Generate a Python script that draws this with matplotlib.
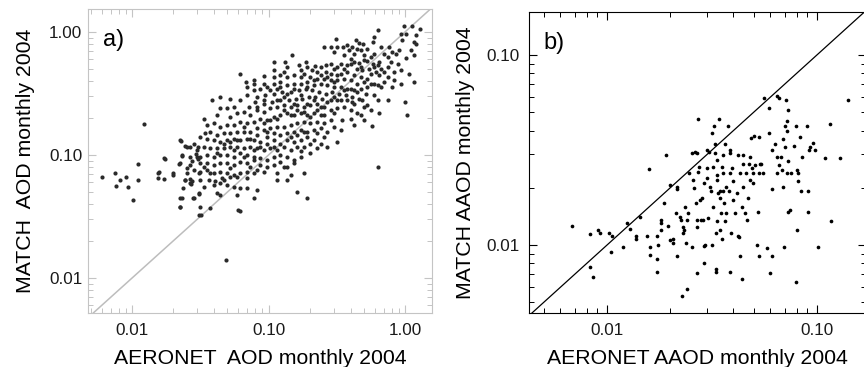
import matplotlib
matplotlib.use('Agg')  # no display
from matplotlib import pyplot as plt
from matplotlib.ticker import LogLocator, NullFormatter
import numpy as np

plt.rcParams['font.family'] = ['Liberation Sans', 'DejaVu Sans']

# a) monthly AOD 2004, (AERONET, MATCH)
aod_pairs = [
    (0.99, 1.13), (1.13, 1.13), (1.30, 1.06), (0.935, 0.969), (1.02, 0.969), (0.63, 1.03),
    (0.595, 0.911), (1.20, 0.94), (1.17, 0.83), (0.96, 0.856), (0.31, 0.88), (0.58, 0.83),
    (0.436, 0.856), (0.46, 0.81), (0.49, 0.80), (0.255, 0.756), (0.285, 0.756), (0.32, 0.756),
    (0.35, 0.756), (0.378, 0.78), (0.41, 0.76), (0.448, 0.733), (0.474, 0.71), (0.531, 0.733),
    (0.667, 0.756), (0.77, 0.756), (0.81, 0.69), (0.91, 0.71), (1.11, 0.71), (0.705, 0.667),
    (0.746, 0.627), (0.86, 0.667), (1.02, 0.61), (1.17, 0.65), (1.20, 0.80),
    (0.302, 0.69), (0.39, 0.71), (0.424, 0.667), (0.502, 0.647), (0.562, 0.627), (0.65, 0.57),
    (0.338, 0.554), (0.378, 0.537), (0.40, 0.554), (0.424, 0.57), (0.46, 0.56), (0.502, 0.589),
    (0.531, 0.58), (0.58, 0.554), (0.63, 0.537), (0.667, 0.50), (0.746, 0.52), (0.835, 0.473),
    (0.935, 0.489), (1.08, 0.459), (0.546, 0.50), (0.595, 0.52), (0.285, 0.554), (0.262, 0.537),
    (0.241, 0.52), (0.22, 0.527), (0.302, 0.50), (0.32, 0.52), (0.358, 0.50), (0.448, 0.50),
    (0.488, 0.489), (0.149, 0.647), (0.133, 0.57), (0.187, 0.57), (0.109, 0.57), (0.167, 0.537),
    (0.192, 0.52), (0.209, 0.489), (0.228, 0.473), (0.262, 0.473), (0.285, 0.459), (0.32, 0.445),
    (0.61, 0.473), (0.705, 0.473), (0.562, 0.459), (0.65, 0.445), (1.17, 0.394), (0.81, 0.358),
    (1.0, 0.27), (1.03, 0.21), (0.935, 0.381), (0.667, 0.358),
    (0.0622, 0.454), (0.068, 0.394), (0.078, 0.41), (0.0924, 0.44), (0.109, 0.489), (0.122, 0.445),
    (0.129, 0.473), (0.137, 0.432), (0.153, 0.445), (0.172, 0.432), (0.182, 0.459), (0.203, 0.432),
    (0.228, 0.419), (0.255, 0.419), (0.285, 0.406), (0.32, 0.406), (0.358, 0.419), (0.40, 0.406),
    (0.448, 0.381), (0.502, 0.394), (0.562, 0.381), (0.63, 0.37), (0.705, 0.394), (0.531, 0.358),
    (0.474, 0.347), (0.424, 0.337), (0.378, 0.347), (0.338, 0.358), (0.302, 0.358), (0.27, 0.37),
    (0.241, 0.381), (0.215, 0.37), (0.192, 0.394), (0.172, 0.381), (0.153, 0.381), (0.137, 0.37),
    (0.122, 0.394), (0.109, 0.381), (0.0977, 0.358), (0.0873, 0.347), (0.078, 0.337), (0.0697, 0.358),
    (0.0697, 0.306), (0.0825, 0.297), (0.095, 0.306), (0.109, 0.316), (0.126, 0.326), (0.145, 0.326),
    (0.167, 0.337), (0.187, 0.347), (0.209, 0.337), (0.234, 0.326), (0.262, 0.316), (0.293, 0.326),
    (0.33, 0.316), (0.368, 0.306), (0.41, 0.297), (0.46, 0.288), (0.516, 0.316), (0.595, 0.306),
    (0.41, 0.27), (0.32, 0.279), (0.285, 0.279), (0.248, 0.288), (0.22, 0.297), (0.197, 0.297),
    (0.177, 0.288), (0.158, 0.288), (0.141, 0.279), (0.122, 0.279), (0.106, 0.27), (0.0924, 0.262),
    (0.080, 0.27), (0.0443, 0.297), (0.0525, 0.288), (0.0385, 0.279), (0.0497, 0.24), (0.0556, 0.247),
    (0.0622, 0.279), (0.0717, 0.247),
    (0.0443, 0.24), (0.0419, 0.212), (0.0525, 0.205), (0.0588, 0.218), (0.0658, 0.225), (0.0737, 0.212),
    (0.0825, 0.232), (0.0924, 0.225), (0.103, 0.24), (0.116, 0.247), (0.129, 0.254), (0.145, 0.247),
    (0.162, 0.254), (0.182, 0.247), (0.203, 0.254), (0.228, 0.262), (0.255, 0.247), (0.285, 0.232),
    (0.32, 0.24), (0.358, 0.247), (0.40, 0.232), (0.448, 0.218), (0.502, 0.247), (0.562, 0.232),
    (0.424, 0.262), (0.302, 0.218), (0.241, 0.212), (0.215, 0.218), (0.192, 0.212), (0.172, 0.218),
    (0.153, 0.212), (0.137, 0.218), (0.122, 0.212), (0.109, 0.205), (0.0977, 0.192), (0.0873, 0.198),
    (0.078, 0.186), (0.0697, 0.181), (0.0622, 0.186), (0.0556, 0.175), (0.0497, 0.175), (0.0443, 0.17),
    (0.0396, 0.181), (0.0354, 0.175), (0.0335, 0.198), (0.285, 0.192), (0.255, 0.181), (0.228, 0.186),
    (0.203, 0.181), (0.182, 0.186), (0.162, 0.181), (0.145, 0.175), (0.129, 0.17), (0.116, 0.17),
    (0.103, 0.165), (0.0924, 0.16), (0.0825, 0.165), (0.0737, 0.155), (0.0658, 0.155), (0.0588, 0.155),
    (0.0525, 0.15), (0.0469, 0.15), (0.0419, 0.145), (0.0375, 0.155), (0.0345, 0.15), (0.348, 0.192),
    (0.40, 0.198), (0.502, 0.192), (0.302, 0.17), (0.241, 0.165), (0.215, 0.16), (0.192, 0.155),
    (0.172, 0.16), (0.153, 0.155), (0.137, 0.15), (0.122, 0.145), (0.109, 0.15), (0.0977, 0.141),
    (0.32, 0.128), (0.57, 0.172), (0.65, 0.218),
    (0.255, 0.141), (0.215, 0.132), (0.192, 0.141), (0.172, 0.132), (0.153, 0.128), (0.137, 0.132),
    (0.122, 0.124), (0.109, 0.132), (0.0977, 0.124), (0.0873, 0.128), (0.078, 0.132), (0.0697, 0.136),
    (0.0622, 0.132), (0.0556, 0.136), (0.0497, 0.132), (0.0443, 0.128), (0.0396, 0.132), (0.0354, 0.136),
    (0.0316, 0.141), (0.0282, 0.124), (0.0225, 0.132), (0.0252, 0.117), (0.0299, 0.11), (0.0335, 0.117),
    (0.0375, 0.113), (0.0419, 0.113), (0.0469, 0.113), (0.0525, 0.117), (0.0588, 0.117), (0.0658, 0.113),
    (0.0737, 0.117), (0.0825, 0.113), (0.0924, 0.11), (0.103, 0.113), (0.116, 0.11), (0.129, 0.117),
    (0.145, 0.11), (0.162, 0.117), (0.182, 0.117), (0.203, 0.124), (0.228, 0.113),
    (0.0232, 0.10), (0.0267, 0.097), (0.0316, 0.097), (0.0354, 0.10), (0.0396, 0.097), (0.0443, 0.10),
    (0.0497, 0.10), (0.0556, 0.097), (0.0622, 0.103), (0.0697, 0.10), (0.078, 0.097), (0.0873, 0.094),
    (0.0977, 0.0912), (0.109, 0.097), (0.122, 0.10), (0.137, 0.097), (0.153, 0.0912), (0.172, 0.097),
    (0.203, 0.103), (0.017, 0.094), (0.0225, 0.0857), (0.0267, 0.083), (0.0316, 0.0857), (0.0354, 0.0857),
    (0.0396, 0.083), (0.0443, 0.0857), (0.0497, 0.0857), (0.0556, 0.083), (0.0622, 0.0884), (0.0697, 0.0857),
    (0.078, 0.0912), (0.0873, 0.083), (0.0977, 0.0804), (0.109, 0.083), (0.129, 0.0804), (0.153, 0.0857),
    (0.64, 0.0804),
    (0.0157, 0.073), (0.0201, 0.071), (0.0252, 0.071), (0.0282, 0.0756), (0.0316, 0.073), (0.0354, 0.0756),
    (0.0396, 0.071), (0.0443, 0.073), (0.0497, 0.071), (0.0556, 0.069), (0.0622, 0.071), (0.0697, 0.073),
    (0.078, 0.071), (0.0924, 0.073), (0.116, 0.071), (0.145, 0.069), (0.0245, 0.0627), (0.0274, 0.061),
    (0.0316, 0.0627), (0.0364, 0.0627), (0.0407, 0.061), (0.0456, 0.0647), (0.0525, 0.0668), (0.0588, 0.0668),
    (0.0697, 0.0647), (0.116, 0.0627), (0.137, 0.0627), (0.182, 0.071), (0.0238, 0.0537), (0.0267, 0.0589),
    (0.0335, 0.0554), (0.0396, 0.057), (0.0443, 0.0589), (0.0497, 0.057), (0.0556, 0.0554), (0.0622, 0.0537),
    (0.0697, 0.0537), (0.162, 0.0500), (0.192, 0.0445), (0.0825, 0.052), (0.031, 0.0489), (0.0232, 0.0445),
    (0.0282, 0.0445), (0.0419, 0.0489), (0.0443, 0.0475), (0.0588, 0.0475), (0.0225, 0.0381), (0.0316, 0.0377),
    (0.0375, 0.0370), (0.0319, 0.0327), (0.060, 0.0358), (0.0622, 0.0348), (0.078, 0.0445), (0.049, 0.0141),
    (0.006, 0.066), (0.0075, 0.0715), (0.0076, 0.0557), (0.0082, 0.0627), (0.009, 0.066), (0.0094, 0.0548),
    (0.0102, 0.0432), (0.011, 0.0845), (0.011, 0.0627), (0.0122, 0.179), (0.0155, 0.072), (0.0155, 0.065),
    (0.0172, 0.064), (0.0175, 0.093), (0.020, 0.069), (0.0222, 0.0845), (0.023, 0.13), (0.0234, 0.098),
    (0.0245, 0.118), (0.0254, 0.078), (0.0267, 0.116), (0.0245, 0.0627), (0.0267, 0.064), (0.027, 0.0582),
    (0.0225, 0.0447), (0.0225, 0.038), (0.028, 0.0447), (0.0276, 0.09), (0.0295, 0.102), (0.0306, 0.093),
    (0.0306, 0.116), (0.031, 0.072), (0.031, 0.048), (0.031, 0.0327),
    (0.116, 0.347), (0.129, 0.297), (0.153, 0.262), (0.172, 0.306), (0.192, 0.262), (0.215, 0.279),
    (0.241, 0.247), (0.27, 0.27), (0.302, 0.297), (0.338, 0.279), (0.378, 0.279), (0.358, 0.337),
    (0.40, 0.347), (0.448, 0.326), (0.488, 0.279), (0.302, 0.394), (0.27, 0.432), (0.241, 0.445),
    (0.378, 0.473), (0.424, 0.445), (0.474, 0.432), (0.531, 0.419), (0.338, 0.459), (0.215, 0.406),
    (0.192, 0.358), (0.153, 0.347), (0.137, 0.316), (0.103, 0.337), (0.0924, 0.279), (0.0825, 0.247),
    (0.116, 0.279), (0.129, 0.232), (0.145, 0.212), (0.162, 0.232), (0.182, 0.225), (0.203, 0.205),
    (0.228, 0.232), (0.255, 0.212), (0.116, 0.198), (0.103, 0.192), (0.0924, 0.181), (0.0825, 0.145),
    (0.0737, 0.136), (0.0658, 0.17), (0.0588, 0.132), (0.0525, 0.128), (0.0469, 0.124), (0.0419, 0.103),
    (0.0556, 0.11), (0.0658, 0.097), (0.0737, 0.0804), (0.0825, 0.0756), (0.0525, 0.078), (0.0469, 0.0627),
    (0.0375, 0.071), (0.0335, 0.0804), (0.0299, 0.097), (0.145, 0.141), (0.162, 0.145), (0.182, 0.155),
    (0.228, 0.15), (0.27, 0.155), (0.338, 0.16), (0.424, 0.175), (0.474, 0.212), (0.63, 0.279),
    (0.746, 0.279), (0.746, 0.432), (0.835, 0.406), (0.531, 0.254), (0.595, 0.381), (0.474, 0.52),
    (0.40, 0.608), (0.358, 0.647), (0.595, 0.667), (0.884, 0.554), (0.79, 0.57), (0.172, 0.489),
    (0.137, 0.52), (0.122, 0.358), (0.078, 0.381), (0.0924, 0.381), (0.109, 0.432), (0.0977, 0.155),
    (0.109, 0.117), (0.0873, 0.117), (0.078, 0.11), (0.122, 0.0884), (0.137, 0.0804), (0.172, 0.107),
    (0.241, 0.124), (0.27, 0.117),
]

# b) monthly AAOD 2004, (AERONET, MATCH)
aaod_pairs = [
    (0.0068, 0.0126), (0.0083, 0.0114), (0.0091, 0.0120), (0.0093, 0.0115), (0.0102, 0.0115),
    (0.0106, 0.0112), (0.0104, 0.0092), (0.0083, 0.0077), (0.0086, 0.0068), (0.0119, 0.0098),
    (0.0124, 0.0130), (0.0128, 0.0122), (0.0137, 0.0112), (0.0138, 0.0108), (0.0144, 0.0141),
    (0.0155, 0.0112), (0.0158, 0.0251), (0.0160, 0.0098), (0.0160, 0.0089), (0.0173, 0.0112),
    (0.0172, 0.0084), (0.0173, 0.0072), (0.0175, 0.0100), (0.0180, 0.0120), (0.0181, 0.0130),
    (0.0180, 0.0136), (0.0186, 0.0166), (0.0190, 0.0298), (0.0195, 0.0126), (0.0200, 0.0207),
    (0.0207, 0.0102), (0.0207, 0.0108), (0.0214, 0.0147), (0.0216, 0.0203), (0.0216, 0.0196),
    (0.0216, 0.0088), (0.0223, 0.0141), (0.0225, 0.0136), (0.0228, 0.0054), (0.0230, 0.0115),
    (0.0233, 0.0120), (0.0235, 0.0159), (0.0238, 0.0103), (0.0240, 0.0059), (0.0240, 0.0136),
    (0.0242, 0.0147), (0.0245, 0.0238), (0.0254, 0.0304), (0.0255, 0.0098), (0.0257, 0.0220),
    (0.0260, 0.0200), (0.0263, 0.0310), (0.0265, 0.0166), (0.0268, 0.0136), (0.0268, 0.0071),
    (0.0268, 0.0304), (0.0270, 0.0243), (0.0272, 0.0460), (0.0275, 0.0258), (0.0277, 0.0172),
    (0.0279, 0.0136), (0.0282, 0.0176), (0.0285, 0.0136), (0.0288, 0.0099), (0.0290, 0.0080),
    (0.0293, 0.0100), (0.0298, 0.0316), (0.0300, 0.0225), (0.0303, 0.0138), (0.0307, 0.0310),
    (0.0310, 0.0203), (0.0313, 0.0193), (0.0315, 0.0387), (0.0317, 0.0100), (0.0320, 0.0159),
    (0.0320, 0.0258), (0.0322, 0.0420), (0.0326, 0.0340), (0.0326, 0.0304), (0.0329, 0.0075),
    (0.0329, 0.0072), (0.0330, 0.0115), (0.0333, 0.0133), (0.0335, 0.0234), (0.0335, 0.0220),
    (0.0337, 0.0187), (0.0340, 0.0460), (0.0344, 0.0193), (0.0346, 0.0120), (0.0348, 0.0147),
    (0.0352, 0.0108), (0.0353, 0.0258), (0.0356, 0.0298), (0.0358, 0.0238), (0.0358, 0.0193),
    (0.0362, 0.0166), (0.0364, 0.0340), (0.0366, 0.0133), (0.0370, 0.0203), (0.0376, 0.0420),
    (0.0379, 0.0193), (0.0385, 0.0316), (0.0385, 0.0304), (0.0387, 0.0072), (0.0390, 0.0115),
    (0.0394, 0.0253), (0.0397, 0.0216), (0.0405, 0.0147), (0.0414, 0.0187), (0.0422, 0.0298),
    (0.0422, 0.0112), (0.0427, 0.0110), (0.0430, 0.0088), (0.0430, 0.0238), (0.0438, 0.0159),
    (0.0438, 0.0066), (0.0446, 0.0298), (0.0446, 0.0266), (0.0455, 0.0147), (0.0460, 0.0238),
    (0.0463, 0.0136), (0.0470, 0.0176), (0.0475, 0.0266), (0.0480, 0.0291), (0.0486, 0.0364),
    (0.0490, 0.0253), (0.0494, 0.0238), (0.0498, 0.0213), (0.0502, 0.0375), (0.0507, 0.0262),
    (0.0520, 0.0100), (0.0524, 0.0150), (0.0527, 0.0368), (0.0527, 0.0088), (0.0530, 0.0238),
    (0.0535, 0.0266), (0.0540, 0.0266), (0.0560, 0.0592), (0.0580, 0.0096), (0.0590, 0.0526),
    (0.0593, 0.0387), (0.0597, 0.0071), (0.0607, 0.0088), (0.0612, 0.0316), (0.0612, 0.0198),
    (0.0632, 0.0340), (0.0642, 0.0604), (0.0642, 0.0238), (0.0646, 0.0291), (0.0658, 0.0592),
    (0.0662, 0.0262), (0.0672, 0.0291), (0.0678, 0.0247), (0.0690, 0.0360), (0.0696, 0.0098),
    (0.0700, 0.0329), (0.0705, 0.0420), (0.0715, 0.0580), (0.0720, 0.0238), (0.0722, 0.0447),
    (0.0722, 0.0400), (0.0725, 0.0513), (0.0725, 0.0150), (0.0730, 0.0278), (0.0743, 0.0152),
    (0.0750, 0.0238), (0.0775, 0.0332), (0.0790, 0.0423), (0.0790, 0.0064), (0.0800, 0.0120),
    (0.0800, 0.0247), (0.0815, 0.0238), (0.0815, 0.0216), (0.0830, 0.0368), (0.0835, 0.0193),
    (0.0845, 0.0291), (0.0895, 0.0420), (0.0910, 0.0193), (0.0910, 0.0150), (0.0915, 0.0316),
    (0.0930, 0.0329), (0.0960, 0.0345), (0.0977, 0.0316), (0.101, 0.0098), (0.109, 0.0286),
    (0.115, 0.0435), (0.117, 0.0133), (0.129, 0.0286), (0.141, 0.0580),
    (0.0288, 0.0213), (0.0298, 0.0253), (0.0346, 0.0176), (0.0370, 0.0147), (0.0268, 0.0125),
    (0.0231, 0.0125), (0.0200, 0.0106), (0.0397, 0.0172), (0.0446, 0.0203), (0.0480, 0.0220),
    (0.0385, 0.0238), (0.0333, 0.0280), (0.0555, 0.0238), (0.0690, 0.0203),
]

aeronet_aod, match_aod = np.array(aod_pairs).T
aeronet_aaod, match_aaod = np.array(aaod_pairs).T

W, H = 864, 367
fig = plt.figure(figsize=(W / 100, H / 100), dpi=100)

def px_axes(left, top, right, bottom):
    return fig.add_axes([left / W, 1 - bottom / H, (right - left) / W, (bottom - top) / H])

def style(ax, col, xlim, ylim, xticks, yticks):
    ax.set_xscale('log')
    ax.set_yscale('log')
    ax.set_xlim(xlim)
    ax.set_ylim(ylim)
    ax.set_xticks(xticks)
    ax.set_xticklabels(['%.2f' % t for t in xticks])
    ax.set_yticks(yticks)
    ax.set_yticklabels(['%.2f' % t for t in yticks])
    for axis in (ax.xaxis, ax.yaxis):
        axis.set_minor_locator(LogLocator(base=10, subs=np.arange(2, 10)))
        axis.set_minor_formatter(NullFormatter())
    ax.tick_params(which='both', direction='in', top=True, right=True, color=col,
                   labelsize=12.3, labelcolor='#1a1a1a')
    ax.tick_params(which='major', length=6, width=0.8, pad=7)
    ax.tick_params(which='minor', length=3.5, width=0.7)
    for s in ax.spines.values():
        s.set_color(col)

# a) AOD
ax1 = px_axes(88, 9, 432, 313)
style(ax1, '#c4c4c4', (0.00475, 1.58), (0.00519, 1.54), [0.01, 0.1, 1.0], [0.01, 0.1, 1.0])
ax1.tick_params(axis='y', pad=4)
ax1.axline((0.01, 0.01), (1.0, 1.0), color='#bdbdbd', lw=1.1, zorder=1)
ax1.scatter(aeronet_aod, match_aod, s=9, color='#2a2a2a', linewidths=0, zorder=2)
ax1.set_xlabel('AERONET  AOD monthly 2004', fontsize=15.3, labelpad=8)
ax1.set_ylabel('MATCH  AOD monthly 2004', fontsize=15.3, labelpad=10)
ax1.text(0.044, 0.935, 'a)', transform=ax1.transAxes, fontsize=17, va='top', ha='left')

# b) AAOD
ax2 = px_axes(529, 12, 866, 313)
style(ax2, 'black', (0.00425, 0.171), (0.00439, 0.168), [0.01, 0.1], [0.01, 0.1])
ax2.axline((0.01, 0.01), (0.1, 0.1), color='black', lw=0.9, zorder=1)
ax2.scatter(aeronet_aaod, match_aaod, s=7, color='black', linewidths=0, zorder=2)
ax2.set_xlabel('AERONET AAOD monthly 2004', fontsize=15.3, labelpad=8)
ax2.set_ylabel('MATCH AAOD monthly 2004', fontsize=15.3, labelpad=8)
ax2.text(0.042, 0.935, 'b)', transform=ax2.transAxes, fontsize=17, va='top', ha='left')

fig.savefig('out.png', dpi=100)
